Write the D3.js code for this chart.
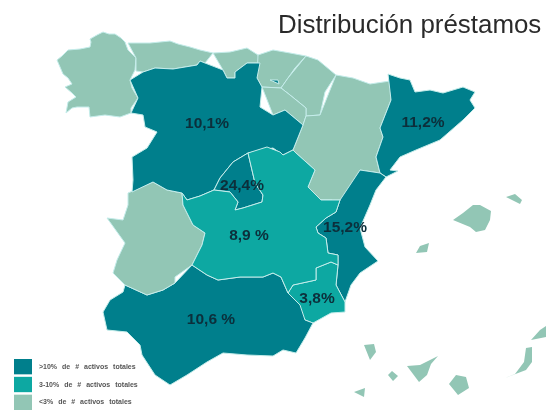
<!DOCTYPE html>
<meta charset="utf-8">
<style>
body { margin: 0; background: #fff; }
text { font-family: "Liberation Sans", Arial, sans-serif; }
.region { stroke: #c4ecea; stroke-width: 1px; stroke-linejoin: round; }
.value { font-size: 15.5px; font-weight: bold; fill: #0a2f3a; text-anchor: middle; }
.title { font-size: 25.9px; fill: #2b2b2b; }
.legend-label { font-size: 7px; font-weight: bold; fill: #555; word-spacing: 3px; }
</style>
<svg width="546" height="410"></svg>
<script src="https://d3js.org/d3.v7.min.js"></script>
<script>
var title = "Distribución préstamos";

// outlines, in picture units
var galicia = [[[57,60],[62,56],[68,50],[80,49],[90,47],[91,42],[90,39],[97,35],[103,32],[109,34],[115,34],[121,38],[125,42],[128,50],[136,58],[135,70],[130,80],[132,88],[138,98],[131,108],[131,113],[120,117],[105,115],[90,117],[89,107],[77,107],[72,108],[66,113],[68,102],[76,97],[72,93],[65,87],[72,84],[68,78],[63,74],[60,68]]];
var asturias = [[[128,43],[150,43],[170,41],[178,44],[190,47],[200,50],[213,53],[205,63],[200,61],[197,65],[173,69],[155,68],[143,72],[136,71],[136,58],[129,50]]];
var cantabria = [[[213,53],[230,52],[247,48],[258,55],[260,63],[247,63],[235,72],[235,78],[227,78],[223,70],[205,63]]];
var paisVasco = [[[258,55],[273,50],[290,53],[306,56],[295,68],[288,78],[281,88],[262,87],[257,78],[260,63]]];
var navarra = [[[306,56],[318,60],[336,75],[325,92],[320,115],[306,116],[306,108],[290,95],[281,88],[288,78],[295,68]]];
var rioja = [[[262,87],[281,88],[290,95],[306,108],[306,116],[303,125],[285,110],[273,115],[260,107]]];
var aragon = [[[336,75],[353,78],[370,84],[390,81],[391,100],[380,128],[383,137],[376,157],[380,173],[360,170],[353,187],[340,200],[321,200],[308,187],[315,170],[296,153],[293,150],[303,125],[306,116],[320,115],[325,92]]];
var cataluna = [[[388,74],[400,78],[410,80],[415,92],[430,90],[443,93],[463,87],[475,92],[470,100],[475,108],[463,120],[440,140],[416,150],[400,157],[390,170],[398,171],[386,177],[380,173],[376,157],[383,137],[380,128],[391,100],[390,81]]];
var valencia = [[[360,170],[380,173],[386,177],[376,190],[370,205],[360,228],[365,247],[378,261],[360,273],[351,285],[345,302],[336,285],[338,265],[338,255],[328,253],[326,238],[318,233],[316,227],[326,218],[336,212],[340,200],[353,187]],
                [[321,200],[332,200],[334,204],[324,205]]];
var murcia = [[[288,293],[293,285],[316,280],[316,268],[331,262],[338,265],[336,285],[345,302],[345,312],[331,313],[313,323],[305,320],[300,305]]];
var andalucia = [[[192,265],[207,275],[218,280],[240,277],[263,277],[273,273],[281,277],[288,293],[300,305],[305,320],[313,323],[305,338],[296,353],[283,350],[273,356],[247,355],[223,353],[207,362],[187,375],[170,385],[155,375],[142,355],[140,345],[127,332],[107,330],[103,312],[110,300],[123,292],[125,285],[147,295],[163,290],[175,283],[175,277]]];
var extremadura = [[[107,218],[123,220],[128,205],[128,193],[153,182],[167,190],[182,193],[183,205],[193,225],[205,233],[202,245],[197,255],[192,265],[175,277],[175,283],[163,290],[147,295],[125,285],[113,273],[117,260],[125,243],[120,233]]];
var castillaLeon = [[[130,80],[143,72],[155,68],[173,69],[197,65],[200,61],[205,63],[223,70],[227,78],[235,78],[235,72],[247,63],[260,63],[257,78],[262,87],[260,107],[273,115],[285,110],[303,125],[293,150],[283,155],[273,148],[248,153],[233,162],[220,178],[214,190],[200,196],[187,200],[182,193],[167,190],[153,182],[132,192],[133,180],[132,157],[147,148],[157,132],[145,127],[143,115],[131,113],[138,98],[132,88]],
                    [[270,80],[278,80],[279,84],[271,84]]];
var madrid = [[[248,153],[233,162],[220,178],[214,190],[230,192],[238,202],[235,210],[243,208],[262,202],[263,195],[255,183],[252,167]]];
var castillaMancha = [[[248,153],[267,147],[280,152],[283,155],[293,150],[296,153],[315,170],[308,187],[321,200],[340,200],[336,212],[326,218],[316,227],[318,233],[326,238],[328,253],[338,255],[338,265],[331,262],[316,268],[316,280],[293,285],[288,293],[281,277],[273,273],[263,277],[240,277],[218,280],[207,275],[192,265],[197,255],[202,245],[205,233],[193,225],[183,205],[182,193],[187,200],[200,196],[214,190],[230,192],[238,202],[235,210],[243,208],[262,202],[263,195],[255,183],[252,167]]];
var baleares = [[[453,220],[463,213],[473,205],[480,205],[491,211],[490,220],[485,230],[476,232],[470,227],[460,223]],
                [[506,197],[515,194],[522,200],[520,204],[512,200]],
                [[416,253],[420,246],[429,243],[427,252],[420,257]],
                [[420,261],[429,263],[425,267]]];
var canarias = [[[364,345],[374,344],[376,352],[370,360],[365,353]],
                [[388,375],[392,371],[398,376],[393,381],[389,380]],
                [[354,392],[365,388],[364,397],[359,396]],
                [[407,366],[420,365],[438,356],[431,364],[427,375],[419,382],[411,376]],
                [[449,384],[456,375],[466,377],[469,388],[458,395],[451,391]],
                [[505,378],[515,374],[524,362],[526,348],[532,347],[532,362],[526,370],[516,376]],
                [[531,340],[540,330],[546,326],[546,337],[536,341]]];

var regionNames = ["Galicia","Asturias","Cantabria","País Vasco","Navarra","La Rioja","Aragón","Cataluña","C. Valenciana","Murcia","Andalucía","Extremadura","Castilla y León","Madrid","Castilla-La Mancha","Baleares","Canarias"];
var regionShapes = [galicia,asturias,cantabria,paisVasco,navarra,rioja,aragon,cataluna,valencia,murcia,andalucia,extremadura,castillaLeon,madrid,castillaMancha,baleares,canarias];
// only the labelled regions have a number in the picture; the rest are just "<3%"
var regionValues = [null,null,null,null,null,null,null,11.2,15.2,3.8,10.6,null,10.1,24.4,8.9,null,null];
var valueLabels = ["","","","","","","","11,2%","15,2%","3,8%","10,6 %","","10,1%","24,4%","8,9 %","",""];
var labelPoints = [null,null,null,null,null,null,null,[423,121],[345,226],[317,297],[211,318],null,[207,122],[242,184],[249,234],null,null];

var legendLabels = [">10% de # activos totales","3-10% de # activos totales","<3% de # activos totales"];
var legendColors = ["#037f8c","#08a8a2","#92c6b5"];

var color = d3.scaleThreshold().domain([3,10]).range(["#92c6b5","#08a8a2","#037f8c"]);

var svg = d3.select("svg");

var defs = svg.append("defs");
defs.append("filter").attr("id","soft")
    .attr("filterUnits","userSpaceOnUse")
    .attr("x",0).attr("y",0).attr("width",546).attr("height",410)
  .append("feGaussianBlur").attr("stdDeviation",0.7);

var features = regionNames.map(function(name,i){
  return {
    type: "Feature",
    properties: {name: name, value: regionValues[i]},
    geometry: {type: "MultiPolygon", coordinates: regionShapes[i].map(function(r){ return [r]; })}
  };
});

var path = d3.geoPath(d3.geoIdentity());

var map = svg.append("g").attr("filter","url(#soft)");

map.selectAll("path")
    .data(features)
  .enter().append("path")
    .attr("class","region")
    .attr("d",path)
    .attr("fill",function(d){ return color(d.properties.value || 0); })
    .style("stroke-width",function(d){ return d.properties.name=="Baleares"||d.properties.name=="Canarias" ? 0 : null; });

var labels = svg.append("g").attr("filter","url(#soft)");
labels.selectAll("text")
    .data(d3.range(regionNames.length).filter(function(i){ return labelPoints[i]; }))
  .enter().append("text")
    .attr("class","value")
    .attr("x",function(i){ return labelPoints[i][0]; })
    .attr("y",function(i){ return labelPoints[i][1]+5.5; })
    .text(function(i){ return valueLabels[i]; });

labels.append("text")
    .attr("class","title")
    .attr("x",278)
    .attr("y",33)
    .text(title);

var legendY = d3.scaleBand().domain(legendLabels).range([359,410]).paddingInner(0.14);

var legend = svg.append("g").attr("filter","url(#soft)");
legend.selectAll("rect")
    .data(legendLabels)
  .enter().append("rect")
    .attr("x",14)
    .attr("y",function(d){ return legendY(d); })
    .attr("width",18)
    .attr("height",legendY.bandwidth())
    .attr("fill",function(d,i){ return legendColors[i]; });
legend.selectAll("text")
    .data(legendLabels)
  .enter().append("text")
    .attr("class","legend-label")
    .attr("x",39)
    .attr("y",function(d){ return legendY(d)+legendY.bandwidth()/2+2; })
    .text(function(d){ return d; });
</script>
